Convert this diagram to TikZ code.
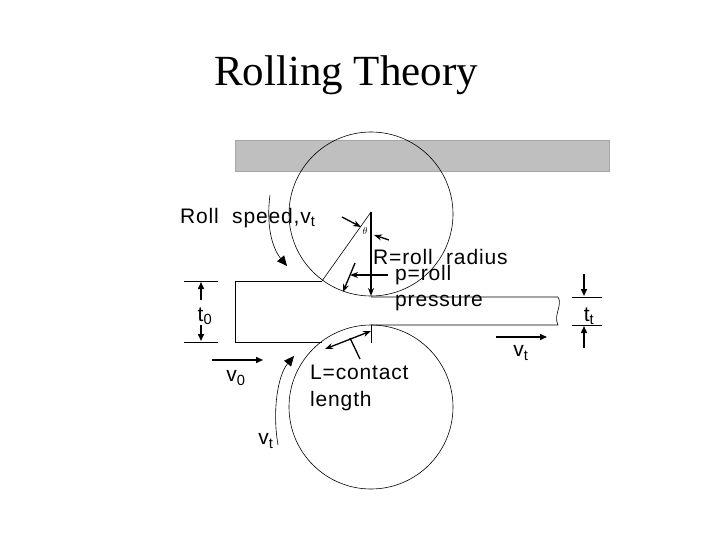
\documentclass[tikz,border=0pt]{standalone}
\usepackage{fontspec}
\setmainfont{Liberation Serif}
\newfontfamily\lab[LetterSpace=4]{Liberation Sans}
\usetikzlibrary{arrows.meta}
\begin{document}
\begin{tikzpicture}[x=1pt,y=-1pt,
  lbl/.style={font=\lab\fontsize{21}{24}\selectfont,inner sep=0pt},
  ar/.style={-{Triangle[length=7pt,width=6pt]},line width=1.5pt},
  sa/.style={-{Stealth[length=8pt,width=6pt]},line width=1.3pt},
  thin/.style={line width=0.6pt}]
\useasboundingbox (0,0) rectangle (720,540);
\node (title) at (346,75) {\fontsize{43}{48}\selectfont Rolling Theory};
\fill[gray!50] (235,140) rectangle (609,171);
\draw[gray!70] (235,140) rectangle (609,171);
\node[circle,draw,thin,minimum size=164pt,inner sep=0pt] (top) at (371,214) {};
\node[circle,draw,thin,minimum size=164pt,inner sep=0pt] (bot) at (371,407) {};
\coordinate (c) at (371,212);
\coordinate (e) at (322,281);
% strip
\draw[thin] (322,281) -- (235,281) -- (235,342) -- (322,342);
\draw[thin] (371,297) -- (558,297) .. controls (563,305) and (553,315) .. (558,325) -- (371,325);
% radius
\draw[thin] (c) -- (e);
\draw[sa] (c) -- (371,296);
% theta
\draw[sa] (342,217) -- (361,227);
\draw[sa] (389,240) -- (374,235);
\node[font=\lab\fontsize{10}{10}\selectfont,inner sep=0pt] (th) at (365,231) {$\theta$};
% pressure
\draw[sa] (388,275) -- (350,275);
\draw[sa] (355,263) -- (343,292);
% contact length
\draw[{Stealth[length=8pt,width=6pt]}-{Stealth[length=8pt,width=6pt]},line width=1.3pt] (325,349) -- (371,331);
\draw[thin] (371,325) -- (371,343);
\draw[line width=1.3pt] (350,338) -- (360,359);
% t0
\draw[thin] (184,281) -- (218,281) (184,342) -- (218,342);
\draw[ar] (201,300) -- (201,282);
\draw[ar] (201,325) -- (201,341);
\node[lbl] (t0) at (205,316) {t\textsubscript{0}};
% tt
\draw[thin] (572,297) -- (602,297) (572,325) -- (602,325);
\draw[ar] (584,274) -- (584,296);
\draw[ar] (584,348) -- (584,326);
\node[lbl] (tt) at (589,316) {t\textsubscript{t}};
% velocities
\draw[ar] (212,360) -- (263,360);
\node[lbl] (v0) at (236,378) {v\textsubscript{0}};
\draw[ar] (496,337) -- (547,337);
\node[lbl] (vt1) at (521,353) {v\textsubscript{t}};
% rotation arrows
\draw[thin,-{Triangle[length=10pt,width=9pt]}] (270,195) .. controls (266,225) and (272,248) .. (287,266);
\draw[thin,-{Triangle[length=10pt,width=9pt]}] (278,445) .. controls (272,410) and (278,375) .. (294,356);
\node[lbl] (vt2) at (266,441) {v\textsubscript{t}};
% labels
\node[lbl,anchor=west] (rs) at (180,218) {Roll\ \ speed,v\textsubscript{t}};
\node[lbl,anchor=west] (R) at (373,257) {R=roll\ \ radius};
\node[lbl,anchor=west] (p) at (395,275) {p=roll};
\node[lbl,anchor=west] (pr) at (395,303) {pressure};
\node[lbl,anchor=west] (L) at (310,372) {L=contact};
\node[lbl,anchor=west] (len) at (310,401) {length};
\end{tikzpicture}
\end{document}
